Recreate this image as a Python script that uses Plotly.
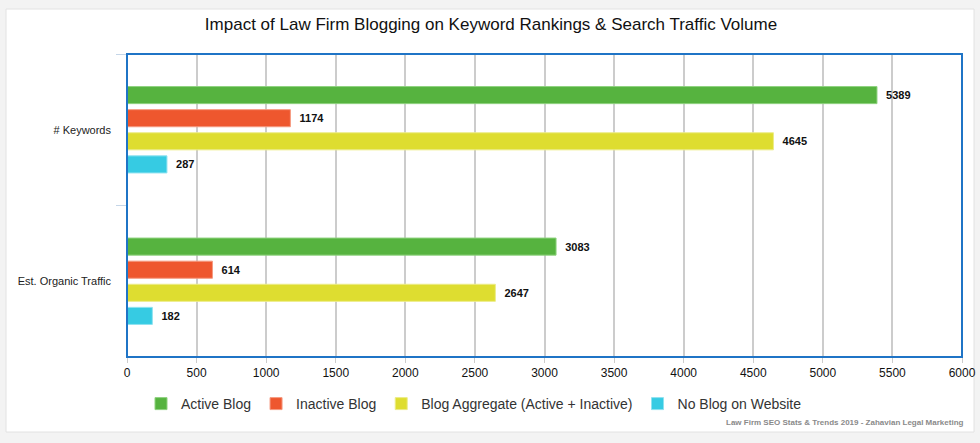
import plotly.graph_objects as go

categories = ["# Keywords", "Est. Organic Traffic"]
series_names = ["Active Blog", "Inactive Blog", "Blog Aggregate (Active + Inactive)", "No Blog on Website"]
active_blog = [5389, 3083]
inactive_blog = [1174, 614]
blog_aggregate = [4645, 2647]
no_blog = [287, 182]
x_ticks = [0, 500, 1000, 1500, 2000, 2500, 3000, 3500, 4000, 4500, 5000, 5500, 6000]

series_values = [active_blog, inactive_blog, blog_aggregate, no_blog]
colors = ["#56b33f", "#ee572e", "#dedd30", "#36cbe3"]
edge_colors = ["#8fd27f", "#f59a80", "#ecec88", "#8fe2f0"]

fig = go.Figure()
for name, vals, c, ec in zip(series_names, series_values, colors, edge_colors):
    fig.add_trace(go.Bar(
        y=categories, x=vals, name=name, orientation="h",
        marker=dict(color=c, line=dict(color=ec, width=1)),
        text=[f"  {v}" for v in vals], textposition="outside",
        textfont=dict(family="Liberation Sans, Arial, sans-serif", size=11, color="#111111", weight="bold"),
        cliponaxis=False,
    ))

W, H = 980, 443
# target coordinates of plot area
sx0, sx1, sy0, sy1 = 127, 962, 54, 357
ml, mt = sx0, sy0
mr, mb = W - sx1, H - sy1
pw, ph = W - ml - mr, H - mt - mb

def px(x):  # pixel x -> paper
    return (x - sx0) / pw

def py(y):  # pixel y -> paper
    return 1 - (y - sy0) / ph

fig.update_layout(
    width=W, height=H,
    margin=dict(l=ml, r=mr, t=mt, b=mb, autoexpand=False),
    paper_bgcolor="#f3f3f3",
    plot_bgcolor="rgba(0,0,0,0)",
    barmode="group",
    bargap=0.39,
    bargroupgap=0.26,
    font=dict(family="Liberation Sans, Arial, sans-serif", size=12, color="#222222"),
    title=dict(text="Impact of Law Firm Blogging on Keyword Rankings & Search Traffic Volume",
               x=491 / W, xref="container", xanchor="center", y=1 - 24 / H, yanchor="middle",
               font=dict(family="Liberation Sans Narrow, Liberation Sans, Arial, sans-serif", size=17, color="#111111")),
    xaxis=dict(range=[0, 6000], tickvals=x_ticks, showgrid=True, gridcolor="#cccccc", gridwidth=1.5,
               zeroline=False, ticks="outside", ticklen=5, tickcolor="#cccccc", automargin=False,
               tickfont=dict(size=12, color="#111111", family="Liberation Sans Narrow, Liberation Sans, Arial")),
    yaxis=dict(autorange="reversed", tickson="boundaries", ticks="outside", ticklen=10,
               tickcolor="#c5d6e8", showgrid=False, showline=False, automargin=False,
               ticklabelstandoff=15,
               tickfont=dict(size=11, color="#222222")),
    legend=dict(orientation="h", x=474 / W, xanchor="center", xref="container",
                y=1 - 404 / H, yanchor="middle", yref="container",
                font=dict(size=14, color="#333333", family="Liberation Sans Narrow, Liberation Sans, Arial"),
                itemwidth=30, bgcolor="rgba(0,0,0,0)"),
    showlegend=True,
)

# card background
fig.add_shape(type="rect", xref="paper", yref="paper", layer="below",
              x0=px(6), x1=px(974), y0=py(432), y1=py(9),
              fillcolor="#ffffff", line=dict(color="#e2e2e2", width=1))
# plot area border
fig.add_shape(type="rect", xref="paper", yref="paper", layer="above",
              x0=0, x1=1, y0=0, y1=1,
              fillcolor="rgba(0,0,0,0)", line=dict(color="#1f74c6", width=2))

fig.add_annotation(text="<b>Law Firm SEO Stats & Trends 2019 - Zahavian Legal Marketing</b>",
                   xref="paper", yref="paper", x=px(966), y=py(422), xanchor="right", yanchor="middle",
                   showarrow=False,
                   font=dict(size=8, color="#8a8a8a", family="Liberation Sans Narrow, Liberation Sans, Arial"))

fig.write_html("out.html",
               config={"displayModeBar": False},
               post_script="document.body.style.margin='0';document.body.style.overflow='hidden';"
                           "document.body.style.background='#f3f3f3';")
